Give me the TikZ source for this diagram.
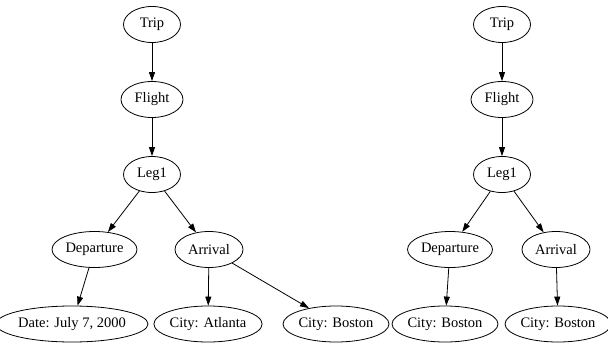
\documentclass[tikz,border=0pt]{standalone}
\usepackage{fontspec}
\setmainfont{Liberation Serif}
\usepackage{tikz}
\usetikzlibrary{positioning,arrows.meta,shapes.geometric}
\tikzset{
  ent/.style ={ellipse, draw=black, line width=0.8pt, minimum height=36pt, inner sep=0pt, font=\fontsize{14.5}{16}\selectfont},
  lnk/.style ={draw=black, line width=0.8pt, -{Triangle[length=9pt,width=6pt]}},
}

\begin{document}
\begin{tikzpicture}[x=1pt,y=-1pt]
\useasboundingbox (0,0) rectangle (608,343);

% first itinerary
\node[ent, minimum width=57pt] (tripA) at (152,24.5) {Trip};
\node[ent, minimum width=62pt] (flightA) at (152,99.5) {Flight};
\node[ent, minimum width=57pt] (legA) at (152,174.5) {Leg1};
\node[ent, minimum width=85pt] (depA) at (94.5,249.5) {Departure};
\node[ent, minimum width=68pt] (arrA) at (209,249.5) {Arrival};
\node[ent, minimum width=130pt] (dateA) at (72,324) {Date: July 7, 2000};
\node[ent, minimum width=102pt] (atlA) at (208,324) {City: Atlanta};
\node[ent, minimum width=98pt] (bosA) at (336,324) {City: Boston};

\draw[lnk] (tripA) -- (flightA);
\draw[lnk] (flightA) -- (legA);
\draw[lnk] (legA) -- (depA);
\draw[lnk] (legA) -- (arrA);
\draw[lnk] (depA) -- (dateA);
\draw[lnk] (arrA) -- (atlA);
\draw[lnk] (arrA) -- (bosA);

% second itinerary
\node[ent, minimum width=57pt] (tripB) at (502,24.5) {Trip};
\node[ent, minimum width=62pt] (flightB) at (502,99.5) {Flight};
\node[ent, minimum width=57pt] (legB) at (502,174.5) {Leg1};
\node[ent, minimum width=85pt] (depB) at (450,249.5) {Departure};
\node[ent, minimum width=68pt] (arrB) at (556,249.5) {Arrival};
\node[ent, minimum width=98pt] (bosB) at (445,324) {City: Boston};
\node[ent, minimum width=98pt] (bosC) at (558,324) {City: Boston};

\draw[lnk] (tripB) -- (flightB);
\draw[lnk] (flightB) -- (legB);
\draw[lnk] (legB) -- (depB);
\draw[lnk] (legB) -- (arrB);
\draw[lnk] (depB) -- (bosB);
\draw[lnk] (arrB) -- (bosC);
\end{tikzpicture}
\end{document}
